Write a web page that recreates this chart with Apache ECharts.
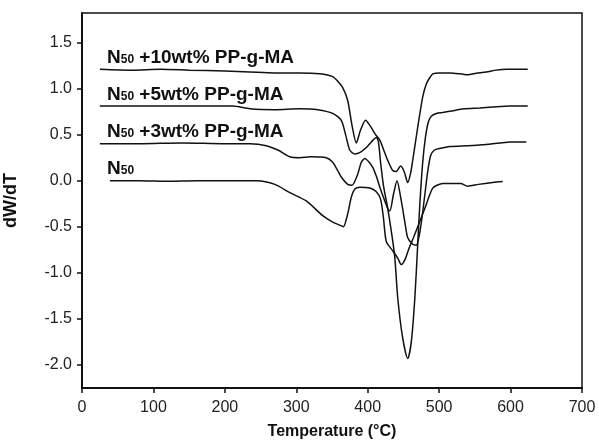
<!DOCTYPE html>
<html>
<head>
<meta charset="utf-8">
<script src="https://cdn.jsdelivr.net/npm/echarts@6/dist/echarts.min.js"></script>
<style>
html,body{margin:0;padding:0;background:#fff}
#main{width:599px;height:442px}
</style>
</head>
<body>
<div id="main"></div>
<script>
// tick positions
var xTicks = [0, 100, 200, 300, 400, 500, 600, 700];
var yTicks = [-2.0, -1.5, -1.0, -0.5, 0.0, 0.5, 1.0, 1.5];

// curve captions (N + subscript 50 + rest)
var captions = [' +10wt% PP-g-MA', ' +5wt% PP-g-MA', ' +3wt% PP-g-MA', ''];

// [temperature, dW/dT]
var n50 = [[39,0.0],[80,0.0],[120,-0.005],[160,0.0],[200,0.0],[245,0.0],[270,-0.04],[291,-0.13],[314,-0.22],
  [337,-0.38],[351,-0.45],[363,-0.49],[366,-0.5],[372,-0.36],[377,-0.18],[382,-0.09],[389,-0.07],[403,-0.08],
  [412,-0.12],[418,-0.2],[422,-0.4],[426,-0.66],[435,-0.76],[442,-0.84],[447,-0.91],[452,-0.86],[458,-0.73],
  [464,-0.62],[473,-0.44],[480,-0.3],[486,-0.17],[491,-0.08],[497,-0.05],[505,-0.03],[516,-0.03],[530,-0.03],
  [540,-0.06],[555,-0.04],[575,-0.02],[589,-0.01]];

var pp3 = [[25,0.40],[80,0.40],[140,0.41],[200,0.40],[235,0.40],[258,0.38],[275,0.33],[291,0.26],[305,0.25],
  [320,0.26],[342,0.25],[351,0.20],[358,0.11],[363,0.04],[372,-0.04],[378,-0.05],[386,0.07],[391,0.20],
  [396,0.24],[402,0.2],[407,0.145],[412,0.05],[417,-0.07],[422,-0.18],[428,-0.3],[431,-0.33],[436,-0.15],
  [441,0.0],[447,-0.22],[452,-0.45],[456,-0.62],[463,-0.69],[468,-0.70],[472,-0.6],[476,-0.4],[480,-0.15],
  [484,0.1],[488,0.27],[493,0.33],[501,0.35],[515,0.37],[540,0.38],[560,0.39],[585,0.41],[600,0.42],[622,0.42]];

var pp5 = [[25,0.81],[80,0.81],[150,0.81],[211,0.81],[235,0.78],[270,0.77],[305,0.78],[330,0.77],[351,0.73],
  [363,0.655],[369,0.5],[375,0.33],[382,0.29],[390,0.31],[398,0.36],[405,0.42],[412,0.47],[415,0.42],
  [418,0.2],[422,-0.05],[428,-0.3],[434,-0.6],[438,-0.84],[442,-1.27],[449,-1.71],[456,-1.93],[461,-1.75],
  [466,-1.27],[470,-0.69],[473,-0.25],[477,0.2],[481,0.48],[485,0.64],[489,0.7],[496,0.73],[505,0.74],
  [520,0.76],[534,0.78],[557,0.79],[575,0.8],[600,0.81],[624,0.81]];

var pp10 = [[25,1.21],[70,1.2],[110,1.21],[150,1.2],[200,1.19],[235,1.18],[270,1.17],[305,1.17],[333,1.16],
  [351,1.13],[358,1.08],[365,1.01],[372,0.87],[378,0.6],[384,0.41],[390,0.55],[397,0.655],[403,0.6],
  [411,0.5],[417,0.44],[423,0.32],[428,0.22],[435,0.11],[440,0.1],[446,0.16],[451,0.1],[456,-0.02],
  [460,0.08],[463,0.22],[470,0.58],[477,0.91],[482,1.05],[487,1.12],[491,1.16],[500,1.17],[515,1.17],
  [530,1.16],[540,1.15],[552,1.165],[566,1.18],[580,1.2],[594,1.21],[624,1.21]];

var chart = echarts.init(document.getElementById('main'));

function line(name, data) {
  return {
    name: name, type: 'line', data: data, showSymbol: false, smooth: 0.25,
    lineStyle: {color: '#111', width: 1.5}, animation: false
  };
}

function caption(i, y) {
  var f = {fontFamily: 'Liberation Sans', fontWeight: 'bold', fontSize: 19, lineHeight: 20, verticalAlign: 'bottom'};
  return {
    type: 'text', x: 107, y: y,
    style: {
      text: '{n|N}{s|50}{t|' + captions[i] + '}',
      verticalAlign: 'middle',
      fill: '#111',
      rich: {
        n: f,
        s: {fontFamily: 'Liberation Sans', fontWeight: 'bold', fontSize: 12, lineHeight: 20, verticalAlign: 'bottom', padding: [0, 0, 1, 0]},
        t: f
      }
    }
  };
}

chart.setOption({
  backgroundColor: '#fff',
  animation: false,
  grid: {left: 82, right: 17, top: 13, bottom: 54, outerBoundsMode: 'none', containLabel: false,
    show: true, borderColor: '#111', borderWidth: 1.5},
  xAxis: {
    type: 'value', min: 0, max: 700, interval: 100,
    name: 'Temperature (°C)', nameLocation: 'middle', nameGap: 36,
    nameTextStyle: {fontFamily: 'Liberation Sans', fontWeight: 'bold', fontSize: 16, color: '#111'},
    axisLine: {onZero: false, lineStyle: {color: '#111', width: 2}},
    axisTick: {length: 5, lineStyle: {color: '#111', width: 1.5}},
    axisLabel: {fontFamily: 'Liberation Sans', fontSize: 16, color: '#222', margin: 12},
    splitLine: {show: false}
  },
  yAxis: {
    type: 'value', min: -2.25, max: 1.82,
    name: 'dW/dT', nameLocation: 'middle', nameGap: 62, nameRotate: 90,
    nameTextStyle: {fontFamily: 'Liberation Sans', fontWeight: 'bold', fontSize: 18, color: '#111'},
    axisLine: {onZero: false, lineStyle: {color: '#111', width: 2}},
    axisTick: {length: 5, customValues: yTicks, lineStyle: {color: '#111', width: 1.5}},
    axisLabel: {fontFamily: 'Liberation Sans', fontSize: 16, color: '#222', margin: 10,
      customValues: yTicks, formatter: function (v) { return v.toFixed(1); }},
    splitLine: {show: false}
  },
  graphic: [caption(0, 57), caption(1, 94), caption(2, 131), caption(3, 168)],
  series: [
    line('N50 +10wt% PP-g-MA', pp10),
    line('N50 +5wt% PP-g-MA', pp5),
    line('N50 +3wt% PP-g-MA', pp3),
    line('N50', n50)
  ]
});
</script>
</body>
</html>
